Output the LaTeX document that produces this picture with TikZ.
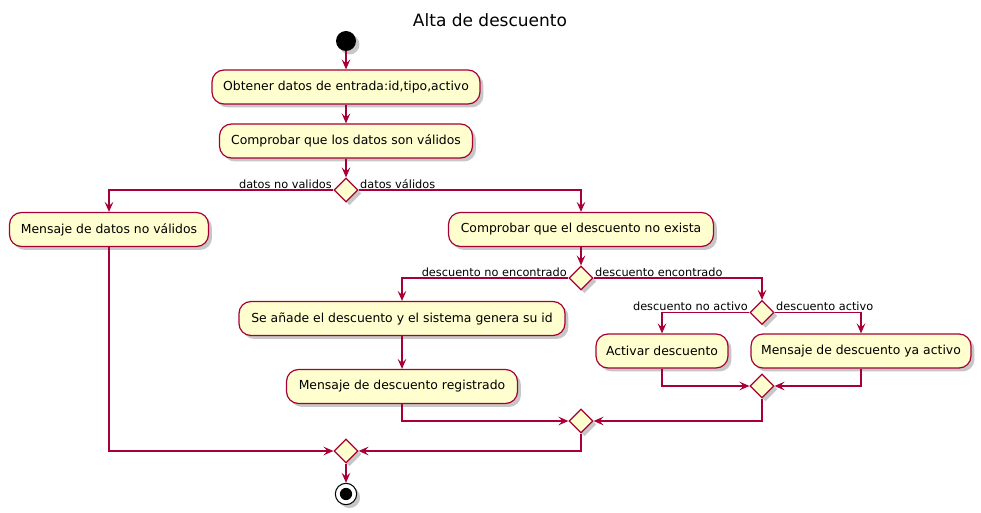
\documentclass[tikz,border=0pt]{standalone}
\usepackage{fontspec}
\setmainfont{DejaVu Sans}
\usetikzlibrary{shapes.geometric,arrows.meta,shadows}
\definecolor{umlred}{HTML}{A80036}
\definecolor{umlfill}{HTML}{FEFECE}
\tikzset{
  shad/.style={drop shadow={shadow xshift=2.6pt,shadow yshift=-2.6pt,fill=black,opacity=0.22}},
  actbox/.style={draw=umlred,fill=umlfill,line width=0.9pt,rounded corners=9pt,
    minimum height=25.5pt,inner sep=0pt,shad,font=\fontsize{9.3}{11}\selectfont},
  bw/.style={minimum width=#1*0.75pt},
  dia/.style={diamond,draw=umlred,fill=umlfill,line width=0.9pt,minimum width=18pt,
    minimum height=18pt,inner sep=0pt,shad},
  lbl/.style={font=\fontsize{8.5}{10}\selectfont,inner sep=1pt},
  arr/.style={draw=umlred,line width=0.9pt,-{Stealth[length=7.5pt,width=6.5pt,inset=3pt]}},
}
\begin{document}
\begin{tikzpicture}[x=0.75pt,y=-0.75pt]
\useasboundingbox (0,0) rectangle (981,513);
\node[font=\fontsize{12.75}{15}\selectfont] (title) at (490,20) {Alta de descuento};
\node[circle,fill=black,minimum size=15pt,inner sep=0pt,shad] (start) at (346,41) {};
\node[actbox,bw=268] (b1) at (346,87) {Obtener datos de entrada:id,tipo,activo};
\node[actbox,bw=253] (b2) at (346,141) {Comprobar que los datos son válidos};
\node[dia] (d1) at (346,190) {};
\node[actbox,bw=199] (b3) at (109,229.5) {Mensaje de datos no válidos};
\node[actbox,bw=265] (b4) at (581,229.5) {Comprobar que el descuento no exista};
\node[dia] (d2) at (581,278) {};
\node[actbox,bw=326] (b5) at (402,318.5) {Se añade el descuento y el sistema genera su id};
\node[actbox,bw=231] (b6) at (402,386.5) {Mensaje de descuento registrado};
\node[dia] (d3) at (762,312.5) {};
\node[actbox,bw=132] (b7) at (662,351) {Activar descuento};
\node[actbox,bw=220] (b8) at (861,351) {Mensaje de descuento ya activo};
\node[dia] (d4) at (762,386) {};
\node[dia] (d5) at (581,421) {};
\node[dia] (d6) at (346,451) {};
\node[circle,draw=black,fill=white,line width=0.8pt,minimum size=16pt,inner sep=0pt,shad] (stop) at (346,494) {};
\fill[black] (stop.center) circle (4.6pt);

\draw[arr] (start) -- (b1);
\draw[arr] (b1) -- (b2);
\draw[arr] (b2) -- (d1);
\draw[arr] (d1.west) -| (b3.north);
\node[lbl,anchor=south east] (l1) at (d1.west) {datos no validos};
\draw[arr] (d1.east) -| (b4.north);
\node[lbl,anchor=south west] (l2) at (d1.east) {datos válidos};
\draw[arr] (b4) -- (d2);
\draw[arr] (d2.west) -| (b5.north);
\node[lbl,anchor=south east] (l3) at (d2.west) {descuento no encontrado};
\draw[arr] (d2.east) -| (d3.north);
\node[lbl,anchor=south west] (l4) at (d2.east) {descuento encontrado};
\draw[arr] (d3.west) -| (b7.north);
\node[lbl,anchor=south east] (l5) at (d3.west) {descuento no activo};
\draw[arr] (d3.east) -| (b8.north);
\node[lbl,anchor=south west] (l6) at (d3.east) {descuento activo};
\draw[arr] (b5) -- (b6);
\draw[arr] (b7.south) |- (d4.west);
\draw[arr] (b8.south) |- (d4.east);
\draw[arr] (b6.south) |- (d5.west);
\draw[arr] (d4.south) |- (d5.east);
\draw[arr] (b3.south) |- (d6.west);
\draw[arr] (d5.south) |- (d6.east);
\draw[arr] (d6) -- (stop);
\end{tikzpicture}
\end{document}
